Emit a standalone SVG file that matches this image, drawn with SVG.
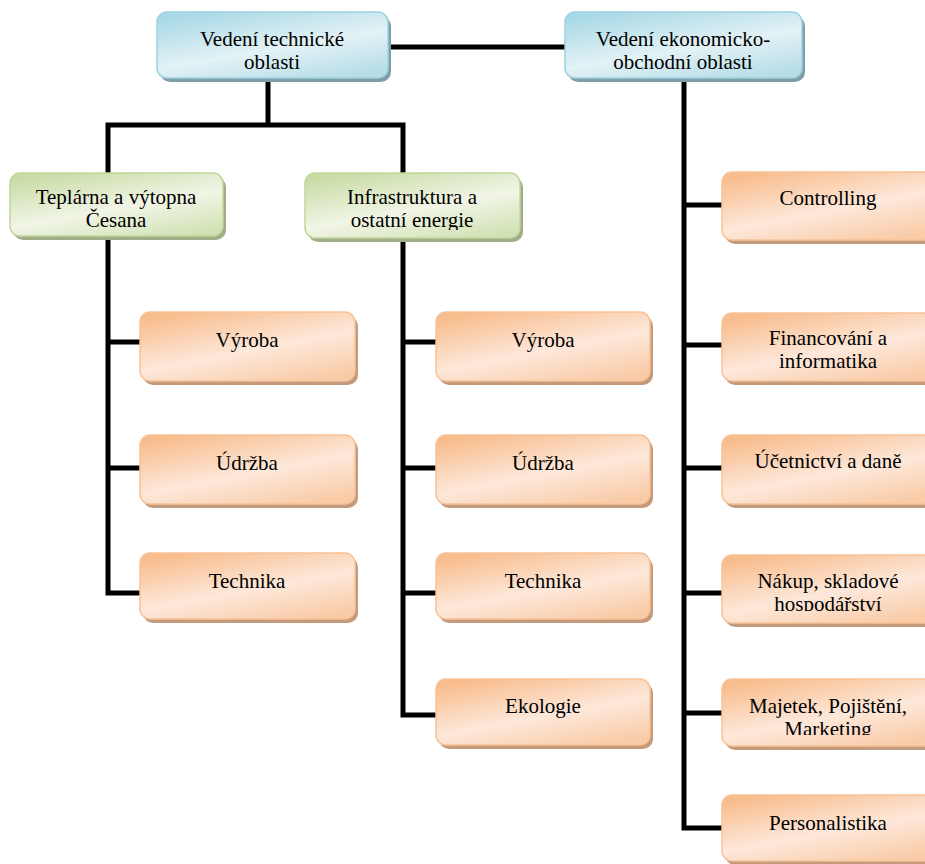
<svg xmlns="http://www.w3.org/2000/svg" width="925" height="864" viewBox="0 0 925 864">
<style>
text{font-family:'Liberation Serif','DejaVu Serif',serif;font-size:21px;fill:#000;text-anchor:middle}
.c{stroke:#000;stroke-width:5;fill:none;stroke-linecap:square}
.sb{fill:#7f9ea6}
.sg{fill:#9fae88}
.so{fill:#c39a7c}
.b{fill:url(#gb);stroke:#9dd2e1;stroke-width:1.5}
.g{fill:url(#gg);stroke:#c2d69a;stroke-width:1.5}
.o{fill:url(#go);stroke:#f8c298;stroke-width:1.5}
</style>
<defs>
<linearGradient id="gb" x1="0.2" y1="0" x2="0.8" y2="1">
<stop offset="0" stop-color="#a9d9e6"/><stop offset="0.55" stop-color="#e3f2f6"/><stop offset="1" stop-color="#b6dde8"/>
</linearGradient>
<linearGradient id="gg" x1="0.2" y1="0" x2="0.8" y2="1">
<stop offset="0" stop-color="#c9dca6"/><stop offset="0.55" stop-color="#f1f5e6"/><stop offset="1" stop-color="#d2e2b6"/>
</linearGradient>
<linearGradient id="go" x1="0.2" y1="0" x2="0.8" y2="1">
<stop offset="0" stop-color="#f8bd8d"/><stop offset="0.55" stop-color="#fde8da"/><stop offset="1" stop-color="#f9cba6"/>
</linearGradient>
<clipPath id="k1"><rect x="157" y="12" width="231" height="57"/></clipPath>
<clipPath id="k2"><rect x="565" y="12" width="237" height="57"/></clipPath>
<clipPath id="k4"><rect x="305" y="173" width="215" height="57"/></clipPath>
<clipPath id="k5"><rect x="722" y="313" width="215" height="55"/></clipPath>
<clipPath id="k6"><rect x="722" y="555" width="215" height="56"/></clipPath>
<clipPath id="k7"><rect x="722" y="679" width="215" height="56"/></clipPath>
</defs>
<rect width="925" height="864" fill="#fff"/>
<g id="connectors">
<path class="c" d="M388 47H565"/>
<path class="c" d="M268 78V125M108 125H403M108 125V173M403 125V173"/>
<path class="c" d="M108 236V593M108 342H140M108 468H140M108 593H140"/>
<path class="c" d="M403 238V715M403 342H436M403 468H436M403 593H436M403 715H436"/>
<path class="c" d="M684 78V828M684 205H722M684 345H722M684 468H722M684 593H722M684 713H722M684 828H722"/>
</g>
<g font-family="Liberation Serif, serif">
<g id="n1"><rect class="sb" x="160" y="16" width="231" height="66" rx="10"/><rect class="b" x="157" y="12" width="231" height="66" rx="10"/>
<g clip-path="url(#k1)"><text x="272" y="46">Vedení technické</text><text x="272" y="69">oblasti</text></g></g>
<g id="n2"><rect class="sb" x="568" y="16" width="237" height="66" rx="10"/><rect class="b" x="565" y="12" width="237" height="66" rx="10"/>
<g clip-path="url(#k2)"><text x="683" y="46">Vedení ekonomicko-</text><text x="683" y="69">obchodní oblasti</text></g></g>
<g id="n3"><rect class="sg" x="13" y="177" width="213" height="63" rx="10"/><rect class="g" x="10" y="173" width="213" height="63" rx="10"/>
<text x="116" y="204">Teplárna a výtopna</text><text x="116" y="227">Česana</text></g>
<g id="n4"><rect class="sg" x="308" y="177" width="215" height="65" rx="10"/><rect class="g" x="305" y="173" width="215" height="65" rx="10"/>
<g clip-path="url(#k4)"><text x="412" y="204">Infrastruktura a</text><text x="412" y="227">ostatní energie</text></g></g>
<g id="n5"><rect class="so" x="143" y="316" width="215" height="69" rx="10"/><rect class="o" x="140" y="312" width="215" height="69" rx="10"/><text x="247" y="347">Výroba</text></g>
<g id="n6"><rect class="so" x="143" y="439" width="215" height="69" rx="10"/><rect class="o" x="140" y="435" width="215" height="69" rx="10"/><text x="247" y="470">Údržba</text></g>
<g id="n7"><rect class="so" x="143" y="557" width="215" height="66" rx="10"/><rect class="o" x="140" y="553" width="215" height="66" rx="10"/><text x="247" y="588">Technika</text></g>
<g id="n8"><rect class="so" x="439" y="316" width="214" height="69" rx="10"/><rect class="o" x="436" y="312" width="214" height="69" rx="10"/><text x="543" y="347">Výroba</text></g>
<g id="n9"><rect class="so" x="439" y="439" width="214" height="69" rx="10"/><rect class="o" x="436" y="435" width="214" height="69" rx="10"/><text x="543" y="470">Údržba</text></g>
<g id="n10"><rect class="so" x="439" y="557" width="214" height="66" rx="10"/><rect class="o" x="436" y="553" width="214" height="66" rx="10"/><text x="543" y="588">Technika</text></g>
<g id="n11"><rect class="so" x="439" y="683" width="214" height="66" rx="10"/><rect class="o" x="436" y="679" width="214" height="66" rx="10"/><text x="543" y="713">Ekologie</text></g>
<g id="n12"><rect class="so" x="725" y="176" width="215" height="68" rx="10"/><rect class="o" x="722" y="172" width="215" height="68" rx="10"/><text x="828" y="205">Controlling</text></g>
<g id="n13"><rect class="so" x="725" y="317" width="215" height="68" rx="10"/><rect class="o" x="722" y="313" width="215" height="68" rx="10"/>
<g clip-path="url(#k5)"><text x="828" y="345">Financování a</text><text x="828" y="368">informatika</text></g></g>
<g id="n14"><rect class="so" x="725" y="439" width="215" height="69" rx="10"/><rect class="o" x="722" y="435" width="215" height="69" rx="10"/><text x="828" y="468">Účetnictví a daně</text></g>
<g id="n15"><rect class="so" x="725" y="559" width="215" height="68" rx="10"/><rect class="o" x="722" y="555" width="215" height="68" rx="10"/>
<g clip-path="url(#k6)"><text x="828" y="588">Nákup, skladové</text><text x="828" y="611">hospodářství</text></g></g>
<g id="n16"><rect class="so" x="725" y="683" width="215" height="67" rx="10"/><rect class="o" x="722" y="679" width="215" height="67" rx="10"/>
<g clip-path="url(#k7)"><text x="828" y="713">Majetek, Pojištění,</text><text x="828" y="736">Marketing</text></g></g>
<g id="n17"><rect class="so" x="725" y="799" width="215" height="66" rx="10"/><rect class="o" x="722" y="795" width="215" height="66" rx="10"/><text x="828" y="830">Personalistika</text></g>
</g>
</svg>
